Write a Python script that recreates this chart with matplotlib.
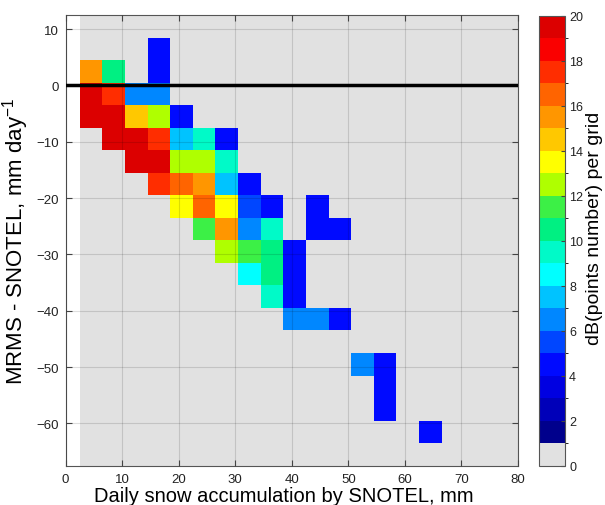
import numpy as np
import matplotlib
matplotlib.use('Agg')
import matplotlib.pyplot as plt
from matplotlib.colors import ListedColormap, BoundaryNorm

plt.rcParams['font.family'] = ['Liberation Sans', 'DejaVu Sans']
plt.rcParams['mathtext.default'] = 'regular'

# 4 mm x 4 mm bins (edges on x: 2.5 + 4k, on y: 0.5 + 4k)
x_edges = np.arange(2.5, 83, 4)
y_edges = np.arange(-67.5, 13, 4)

# occupied cells: bin centre (snotel, diff) and dB(points number)
cell_x = [16.5, 4.5, 8.5, 16.5,
          4.5, 8.5, 12.5, 16.5,
          4.5, 8.5, 12.5, 16.5, 20.5,
          8.5, 12.5, 16.5, 20.5, 24.5, 28.5,
          12.5, 16.5, 20.5, 24.5, 28.5,
          16.5, 20.5, 24.5, 28.5, 32.5,
          20.5, 24.5, 28.5, 32.5, 36.5, 44.5,
          24.5, 28.5, 32.5, 36.5, 44.5, 48.5,
          28.5, 32.5, 36.5, 40.5,
          32.5, 36.5, 40.5,
          36.5, 40.5,
          40.5, 44.5, 48.5,
          52.5, 56.5,
          56.5,
          56.5,
          64.5]
cell_y = [6.5, 2.5, 2.5, 2.5,
          -1.5, -1.5, -1.5, -1.5,
          -5.5, -5.5, -5.5, -5.5, -5.5,
          -9.5, -9.5, -9.5, -9.5, -9.5, -9.5,
          -13.5, -13.5, -13.5, -13.5, -13.5,
          -17.5, -17.5, -17.5, -17.5, -17.5,
          -21.5, -21.5, -21.5, -21.5, -21.5, -21.5,
          -25.5, -25.5, -25.5, -25.5, -25.5, -25.5,
          -29.5, -29.5, -29.5, -29.5,
          -33.5, -33.5, -33.5,
          -37.5, -37.5,
          -41.5, -41.5, -41.5,
          -49.5, -49.5,
          -53.5,
          -57.5,
          -61.5]
cell_db = [4.5, 15.5, 10.5, 4.5,
           19.5, 17.5, 6.5, 6.5,
           19.5, 19.5, 14.5, 12.5, 4.5,
           19.5, 19.5, 17.5, 7.5, 9.5, 4.5,
           19.5, 19.5, 12.5, 12.5, 9.5,
           17.5, 16.5, 15.5, 7.5, 4.5,
           13.5, 16.5, 13.5, 5.2, 4.5, 4.5,
           11.5, 15.5, 6.5, 9.5, 4.5, 4.5,
           12.5, 11.5, 10.5, 4.5,
           8.5, 10.5, 4.5,
           9.5, 4.5,
           6.5, 6.5, 4.5,
           6.5, 4.5,
           4.5,
           4.5,
           4.5]

# discrete jet-like palette, first level = empty cell
palette = ['#e1e1e1',
           '#00008c', '#0000b9', '#0000e1', '#000aff', '#0046ff', '#0087ff',
           '#00c3ff', '#00ffff', '#00fac8', '#00f082', '#3cf046', '#afff00',
           '#ffff00', '#ffc800', '#ff9600', '#ff6400', '#ff2d00', '#fa0000',
           '#dc0000']
cmap = ListedColormap(palette)
norm = BoundaryNorm(np.arange(0, 21), cmap.N)

z = np.zeros((len(y_edges) - 1, len(x_edges) - 1))
for xc, yc, v in zip(cell_x, cell_y, cell_db):
    i = np.searchsorted(y_edges, yc) - 1
    j = np.searchsorted(x_edges, xc) - 1
    z[i, j] = v

fig = plt.figure(figsize=(6.05, 5.06), dpi=100)
ax = fig.add_axes([65.5/605, 1 - 466.7/506, (518 - 65.5)/605, (466.7 - 16)/506])
cax = fig.add_axes([539/605, 1 - 467/506, 26/605, (467 - 16.7)/506])

mesh = ax.pcolormesh(x_edges, y_edges, z, cmap=cmap, norm=norm)
ax.axhline(0, color='k', lw=2.5, zorder=5)

ax.set_xlim(0, 80)
ax.set_ylim(-67.5, 12.5)
ax.set_xticks(np.arange(0, 81, 10))
ax.set_yticks(np.arange(-60, 11, 10))
ax.grid(True, color='k', alpha=0.13, lw=0.8)
ax.set_axisbelow(False)
ax.tick_params(direction='in', top=True, right=True, length=4, width=0.8,
               color='#444444', labelsize=9.5, labelcolor='#222222', pad=5)
for s in ax.spines.values():
    s.set_color('#555555')
    s.set_linewidth(0.8)

ax.set_xlabel('Daily snow accumulation by SNOTEL, mm', fontsize=14.5)
ax.xaxis.set_label_coords(0.482, -0.045)
ax.xaxis.label.set_va('top')
ax.set_ylabel('MRMS - SNOTEL, mm day$^{-1}$', fontsize=16)
ax.yaxis.set_label_coords(-0.076, 0.5)

cb = fig.colorbar(mesh, cax=cax, ticks=np.arange(0, 21, 2))
cb.outline.set_edgecolor('#555555')
cb.outline.set_linewidth(0.8)
cax.tick_params(direction='in', length=3, width=0.8, color='#444444',
                labelsize=9, labelcolor='#222222', pad=3)
cb.set_label('dB(points number) per grid', fontsize=14, labelpad=2)
cax.yaxis.label.set_y(0.53)

fig.savefig('out.png', dpi=100)
